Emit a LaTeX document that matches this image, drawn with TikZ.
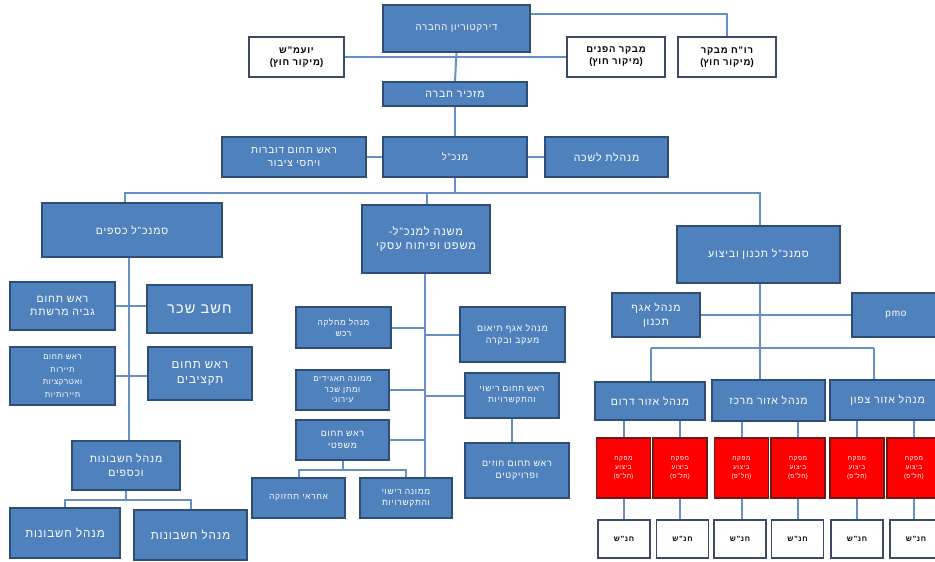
\documentclass[tikz,border=0pt]{standalone}
\usepackage{fontspec}
\setmainfont{Liberation Sans}[Script=Hebrew, LetterSpace=8]
\usetikzlibrary{backgrounds}
\TeXXeTstate=1
\newcommand\heb[1]{\beginR #1\endR}
\newcommand\paren[1]{)\heb{#1}(}
\definecolor{bfill}{HTML}{4F81BD}
\definecolor{bdraw}{HTML}{2E4E78}
\definecolor{lnk}{HTML}{6790C8}
\definecolor{rfill}{HTML}{FF0000}
\definecolor{rdraw}{HTML}{6B1A1A}
\definecolor{wdraw}{HTML}{3B4A66}
\tikzset{
 bbox/.style={draw=bdraw, fill=bfill, line width=1.3pt, text=white, align=center, inner sep=1pt, font=\fontsize{9.5}{12}\selectfont},
 wbox/.style={draw=wdraw, fill=white, line width=1.3pt, text=black, align=center, inner sep=1pt, font=\bfseries\fontsize{9.5}{12}\selectfont},
 rbox/.style={draw=rdraw, fill=rfill, line width=1.1pt, text=white, align=center, inner sep=1pt, font=\fontsize{6.5}{9}\selectfont},
 link/.style={draw=lnk, line width=2pt},
 sz/.style 2 args={minimum width=#1, minimum height=#2},
 fs/.style={font=\fontsize{#1}{\dimexpr #1pt*13/10\relax}\selectfont},
}
\begin{document}
\begin{tikzpicture}[x=1pt,y=-1pt]
\useasboundingbox (0,0) rectangle (935,562);
\clip (0,0) rectangle (935,562);
% top
\node[bbox, sz={147pt}{47pt}] (dir) at (456.5,28.5) {\heb{דירקטוריון  החברה}};
\node[wbox, sz={95pt}{40pt}] (yoamash) at (296.5,57) {\heb{יועמ"ש}\\\paren{מיקור חוץ}};
\node[wbox, sz={98pt}{40pt}] (mevaker) at (616,57) {\heb{מבקר הפנים}\\\paren{מיקור חוץ}};
\node[wbox, sz={98pt}{40pt}] (roach) at (727,57) {\heb{רו"ח מבקר}\\\paren{מיקור חוץ}};
\node[bbox, sz={144pt}{24pt}, fs=10.5] (mazkir) at (455,94) {\heb{מזכיר  חברה}};
\node[bbox, sz={144pt}{40pt}] (mankal) at (455,157) {\heb{מנכ"ל}};
\node[bbox, sz={144pt}{40pt}, fs=10] (dover) at (294,157) {\heb{ראש תחום דוברות}\\\heb{ויחסי  ציבור}};
\node[bbox, sz={123pt}{40pt}, fs=10.5] (lishka) at (606.5,157) {\heb{מנהלת  לשכה}};
% second level
\node[bbox, sz={180pt}{54pt}, fs=10.5] (ksafim) at (132,230) {\heb{סמנכ"ל  כספים}};
\node[bbox, sz={128pt}{68pt}, fs=11] (mishne) at (426,239) {-\heb{משנה למנכ"ל}\\\heb{משפט ופיתוח  עסקי}};
\node[bbox, sz={163pt}{57pt}, fs=10.5] (tichnun) at (758.5,254.5) {\heb{סמנכ"ל  תכנון  וביצוע}};
% left column
\node[bbox, sz={105pt}{48pt}, fs=10.5] (gvia) at (62.5,306) {\heb{ראש תחום}\\\heb{גביה  מרשתת}};
\node[bbox, sz={105pt}{48pt}, fs=14.5] (shachar) at (199.5,309) {\heb{חשב שכר}};
\node[bbox, sz={105pt}{58pt}, font=\fontsize{7.8}{12.5}\selectfont] (tayarut) at (62.5,376) {\heb{ראש תחום}\\\heb{תיירות}\\\heb{ואטרקציות}\\\heb{תיירותיות}};
\node[bbox, sz={104pt}{53pt}, fs=11.5] (taktziv) at (200,373.5) {\heb{ראש תחום}\\\heb{תקציבים}};
\node[bbox, sz={108pt}{49pt}, fs=10.5] (hesh) at (126,465.5) {\heb{מנהל  חשבונות}\\\heb{וכספים}};
\node[bbox, sz={110pt}{50pt}, fs=11.5] (hesh1) at (65,533) {\heb{מנהל  חשבונות}};
\node[bbox, sz={113pt}{50pt}, fs=11.5] (hesh2) at (190.5,535) {\heb{מנהל  חשבונות}};
% middle column
\node[bbox, sz={95pt}{41pt}, fs=8.3] (machlaka) at (343.5,327.5) {\heb{מנהל  מחלקה}\\\heb{רכש}};
\node[bbox, sz={105pt}{55pt}, fs=9] (teum) at (512.5,334.5) {\heb{מנהל אגף תיאום}\\\heb{מעקב  ובקרה}};
\node[bbox, sz={93pt}{40pt}, font=\fontsize{8}{10.5}\selectfont] (taagidim) at (342.5,390) {\heb{ממונה תאגידים}\\\heb{ומתן  שכר}\\\heb{עירוני}};
\node[bbox, sz={94pt}{45pt}, fs=8.5] (rishuy) at (512,395.5) {\heb{ראש תחום  רישוי}\\\heb{והתקשרויות}};
\node[bbox, sz={93pt}{40pt}, fs=8.8] (mishpat) at (342.5,440) {\heb{ראש תחום}\\\heb{משפטי}};
\node[bbox, sz={104pt}{55pt}, fs=9] (chozim) at (517,470.5) {\heb{ראש תחום חוזים}\\\heb{ופרויקטים}};
\node[bbox, sz={93pt}{40pt}, fs=8.5] (tachzuka) at (298.5,498) {\heb{אחראי תחזוקה}};
\node[bbox, sz={92pt}{40pt}, fs=8.5] (memune) at (406,498) {\heb{ממונה  רישוי}\\\heb{והתקשרויות}};
% right column
\node[bbox, sz={88pt}{44pt}, fs=10.5] (agaf) at (656,315) {\heb{מנהל אגף}\\\heb{תכנון}};
\node[bbox, sz={88pt}{44pt}, fs=10] (pmo) at (896,315) {pmo};
\node[bbox, sz={110pt}{38pt}, fs=10.5] (darom) at (650,401) {\heb{מנהל אזור דרום}};
\node[bbox, sz={113pt}{41pt}, fs=10.5] (merkaz) at (768.5,400.5) {\heb{מנהל אזור מרכז}};
\node[bbox, sz={115pt}{40pt}, fs=10.5] (tzafon) at (887.5,400) {\heb{מנהל אזור  צפון}};
\foreach \i/\x in {1/623.5,2/680,3/741.5,4/798,5/857,6/914}{
 \node[rbox, sz={54pt}{60pt}] (red\i) at (\x,468) {\heb{מפקח}\\\heb{ביצוע}\\\paren{חל"פ}};
}
\foreach \i/\x in {1/624,2/682.5,3/740,4/797.5,5/857,6/916}{
 \node[wbox, sz={52pt}{38pt}, font=\bfseries\fontsize{7.5}{9}\selectfont] (wt\i) at (\x,539) {\heb{חנ"ש}};
}
% connectors
\begin{scope}[on background layer]
\draw[link] (dir.east |- 0,14) -| (roach.north);
\draw[link] (yoamash.east) -- (mevaker.west);
\draw[link] (dir.south) -- (mazkir.north);
\draw[link] (mazkir.south) -- (mankal.north);
\draw[link] (dover.east) -- (mankal.west);
\draw[link] (mankal.east) -- (lishka.west);
\coordinate (busL) at (125,193);
\coordinate (busM) at (427,193);
\coordinate (busR) at (760,193);
\draw[link] (mankal.south) -- (mankal.south |- busL);
\draw[link] (ksafim.north -| busL) -- (busL) -- (busR) -- (tichnun.north -| busR);
\draw[link] (busM) -- (mishne.north -| busM);
% left
\coordinate (spL) at (129,0);
\draw[link] (ksafim.south -| spL) -- (hesh.north -| spL);
\draw[link] (gvia.east) -- (gvia.east -| shachar.west);
\draw[link] (tayarut.east) -- (tayarut.east -| taktziv.west);
\coordinate (hb) at (0,500);
\draw[link] (hesh.south) -- (hesh.south |- hb);
\draw[link] (hesh1.north) -- (hesh1.north |- hb) -- (hesh2.north |- hb) -- (hesh2.north);
% middle
\coordinate (spM) at (425,0);
\draw[link] (mishne.south -| spM) -- (memune.north -| spM);
\draw[link] (machlaka.east) -- (machlaka.east -| spM);
\draw[link] (teum.west) -- (teum.west -| spM);
\draw[link] (taagidim.east) -- (taagidim.east -| spM);
\draw[link] (rishuy.west) -- (rishuy.west -| spM);
\draw[link] (mishpat.east) -- (mishpat.east -| spM);
\draw[link] (rishuy.south) -- (rishuy.south |- chozim.north);
\coordinate (mb) at (0,470);
\draw[link] (mishpat.south) -- (mishpat.south |- mb);
\draw[link] (tachzuka.north) -- (tachzuka.north |- mb) -- (memune.north |- mb) -- (memune.north);
% right
\coordinate (spR) at (760,0);
\coordinate (rb) at (0,348);
\draw[link] (tichnun.south -| spR) -- (spR |- rb);
\draw[link] (agaf.east) -- (agaf.east -| pmo.west);
\draw[link] (651,348) -- (874,348);
\draw[link] (651,348) -- (darom.north -| 651,0);
\draw[link] (spR |- rb) -- (merkaz.north -| spR);
\draw[link] (874,348) -- (tzafon.north -| 874,0);
\foreach \i/\r in {1/darom,2/darom,3/merkaz,4/merkaz,5/tzafon,6/tzafon}{
 \draw[link] (red\i.north |- \r.south) -- (red\i.north);
 \draw[link] (red\i.south) -- (red\i.south |- wt\i.north);
}
\end{scope}
\end{tikzpicture}
\end{document}
